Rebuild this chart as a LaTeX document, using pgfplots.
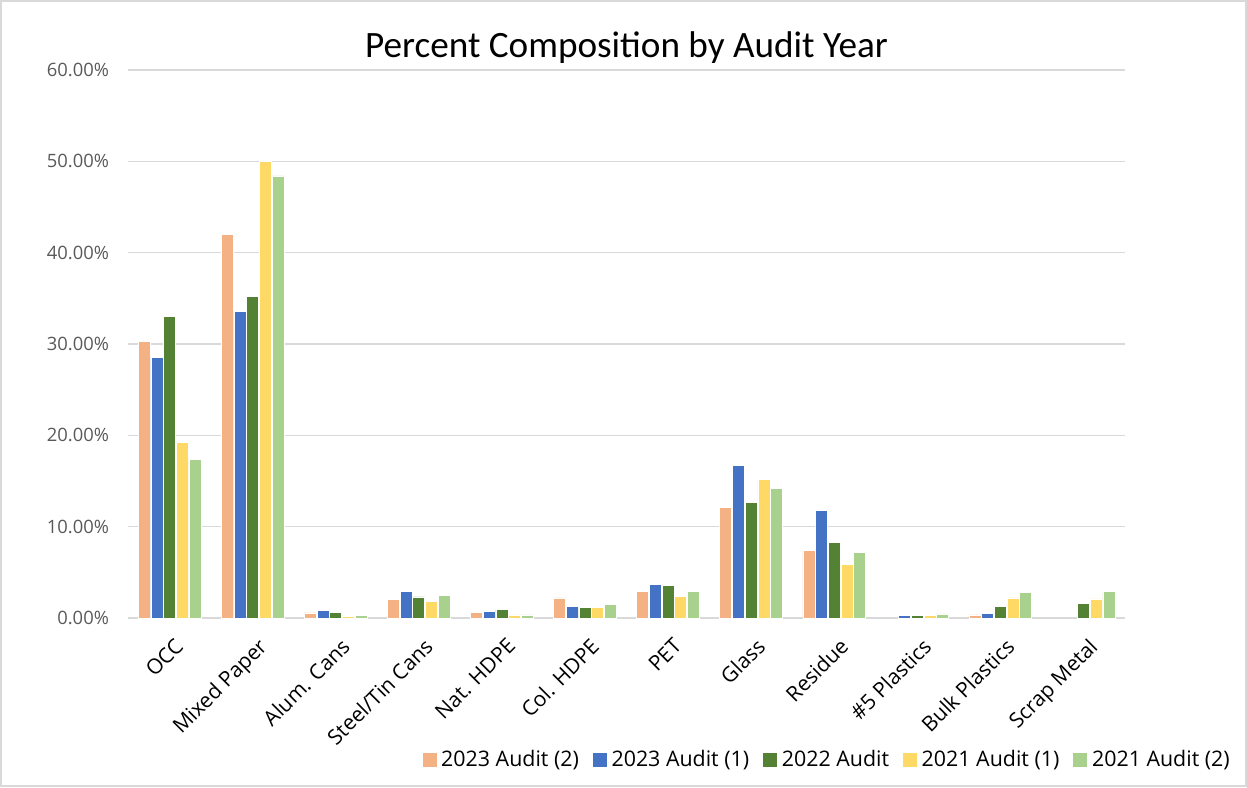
\documentclass[border=0pt]{standalone}
\usepackage{pgfplots}
\pgfplotsset{compat=1.18}
\usepackage{fontspec}
\setmainfont{Open Sans}
\newfontfamily\titlefont{Carlito}
\definecolor{cOr}{HTML}{F4B183}
\definecolor{cBl}{HTML}{4472C4}
\definecolor{cGr}{HTML}{548235}
\definecolor{cYe}{HTML}{FFD966}
\definecolor{cLg}{HTML}{A9D18E}
\definecolor{cTick}{HTML}{595959}
\definecolor{cGrid}{HTML}{D9D9D9}
\begin{document}
\begin{tikzpicture}
\draw[color=cGrid, line width=0.8pt] (0.4pt,0.4pt) rectangle (623.1pt,393.1pt);
\begin{axis}[
  at={(64pt,84.5pt)}, anchor=south west,
  scale only axis, width=498.5pt, height=274pt,
  ymin=0, ymax=60, xmin=-0.5, xmax=11.5,
  ybar=0.35pt, bar width=6pt,
  axis line style={draw=none},
  major tick length=0pt,
  xtick={0,...,11},
  xticklabels={OCC, Mixed Paper, Alum. Cans, Steel/Tin Cans, Nat. HDPE, Col. HDPE, PET, Glass, Residue, \#5 Plastics, Bulk Plastics, Scrap Metal},
  x tick label style={rotate=45, anchor=north east, font=\fontsize{10.5}{12}\selectfont, text=black, xshift=-4pt, yshift=-7pt, inner sep=1pt},
  ytick={0,10,...,60},
  yticklabels={0.00\%,10.00\%,20.00\%,30.00\%,40.00\%,50.00\%,60.00\%},
  y tick label style={font=\fontsize{9.2}{11}\selectfont, text=cTick, xshift=-6pt},
  ymajorgrids, grid style={color=cGrid, line width=0.75pt},
  title={Percent Composition by Audit Year},
  title style={font=\titlefont\fontsize{18.6}{22}\selectfont, yshift=-6.5pt},
  legend style={at={(1.1155,-0.259)}, anchor=east, legend columns=5, draw=none,
    font=\fontsize{10.7}{12}\selectfont,
    /tikz/every even column/.append style={column sep=4.5pt}},
  legend image code/.code={\fill[#1] (0pt,-3.75pt) rectangle (7.5pt,3.75pt);},
  every axis plot/.append style={draw=white, line width=0.3pt},
]
\addplot[fill=cOr] coordinates {(0,30.3) (1,42.0) (2,0.55) (3,2.0) (4,0.6) (5,2.2) (6,2.9) (7,12.1) (8,7.4) (10,0.35)};
\addplot[fill=cBl] coordinates {(0,28.5) (1,33.6) (2,0.8) (3,2.9) (4,0.7) (5,1.3) (6,3.7) (7,16.7) (8,11.8) (9,0.25) (10,0.5)};
\addplot[fill=cGr] coordinates {(0,33.0) (1,35.2) (2,0.6) (3,2.3) (4,0.95) (5,1.15) (6,3.6) (7,12.7) (8,8.3) (9,0.25) (10,1.3) (11,1.6)};
\addplot[fill=cYe] coordinates {(0,19.2) (1,50.0) (2,0.2) (3,1.8) (4,0.35) (5,1.2) (6,2.4) (7,15.2) (8,5.9) (9,0.3) (10,2.2) (11,2.1)};
\addplot[fill=cLg] coordinates {(0,17.4) (1,48.4) (2,0.25) (3,2.5) (4,0.35) (5,1.5) (6,2.9) (7,14.2) (8,7.2) (9,0.45) (10,2.8) (11,2.9)};
\legend{2023 Audit (2), 2023 Audit (1), 2022 Audit, 2021 Audit (1), 2021 Audit (2)}
\end{axis}
\end{tikzpicture}
\end{document}
